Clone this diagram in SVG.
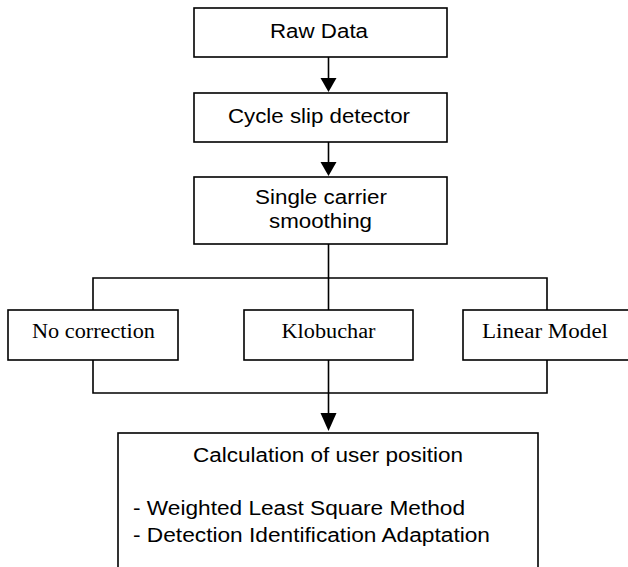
<svg xmlns="http://www.w3.org/2000/svg" width="628" height="567" viewBox="0 0 628 567">
<style>
.box{fill:#fff;stroke:#000;stroke-width:1.6}
.ln{fill:none;stroke:#000;stroke-width:1.6}
.ah{fill:#000;stroke:none}
.s{font-family:"Liberation Sans",Arial,sans-serif;font-size:19.5px;fill:#000}
.r{font-family:"Liberation Serif","Times New Roman",serif;font-size:20px;fill:#000}
</style>
<rect width="628" height="567" fill="#fff"/>
<g id="connectors">
<line class="ln" x1="328.5" y1="57" x2="328.5" y2="79"/>
<polygon class="ah" points="320.5,78 336.5,78 328.5,92"/>
<line class="ln" x1="328.5" y1="142" x2="328.5" y2="163"/>
<polygon class="ah" points="320.5,162 336.5,162 328.5,176"/>
<polyline class="ln" points="328.5,244 328.5,278"/>
<polyline class="ln" points="93,310 93,278 547,278 547,310"/>
<line class="ln" x1="328.5" y1="278" x2="328.5" y2="310"/>
<polyline class="ln" points="93,360 93,393 547,393 547,360"/>
<line class="ln" x1="328.5" y1="360" x2="328.5" y2="414"/>
<polygon class="ah" points="320.5,413 336.5,413 328.5,431"/>
</g>
<g id="raw-data">
<rect class="box" x="194" y="8" width="253" height="49"/>
<text class="s" x="319" y="38" text-anchor="middle" textLength="98" lengthAdjust="spacingAndGlyphs">Raw Data</text>
</g>
<g id="cycle-slip">
<rect class="box" x="194" y="93" width="253" height="49"/>
<text class="s" x="319" y="123" text-anchor="middle" textLength="182" lengthAdjust="spacingAndGlyphs">Cycle slip detector</text>
</g>
<g id="smoothing">
<rect class="box" x="194" y="177" width="253" height="67"/>
<text class="s" x="321" y="204" text-anchor="middle" textLength="132" lengthAdjust="spacingAndGlyphs">Single carrier</text>
<text class="s" x="320.5" y="228" text-anchor="middle" textLength="103" lengthAdjust="spacingAndGlyphs">smoothing</text>
</g>
<g id="no-correction">
<rect class="box" x="8" y="310" width="170" height="50"/>
<text class="r" x="93.5" y="338" text-anchor="middle" textLength="123" lengthAdjust="spacingAndGlyphs">No correction</text>
</g>
<g id="klobuchar">
<rect class="box" x="244" y="310" width="169" height="50"/>
<text class="r" x="328.5" y="338" text-anchor="middle" textLength="94" lengthAdjust="spacingAndGlyphs">Klobuchar</text>
</g>
<g id="linear-model">
<rect class="box" x="463" y="310" width="170" height="50"/>
<text class="r" x="545" y="338" text-anchor="middle" textLength="126" lengthAdjust="spacingAndGlyphs">Linear Model</text>
</g>
<g id="user-position">
<rect class="box" x="118" y="433" width="420" height="140"/>
<text class="s" x="328" y="462" text-anchor="middle" textLength="270" lengthAdjust="spacingAndGlyphs">Calculation of user position</text>
<text class="s" x="133" y="515" textLength="332" lengthAdjust="spacingAndGlyphs">- Weighted Least Square Method</text>
<text class="s" x="133" y="542" textLength="357" lengthAdjust="spacingAndGlyphs">- Detection Identification Adaptation</text>
</g>
</svg>
